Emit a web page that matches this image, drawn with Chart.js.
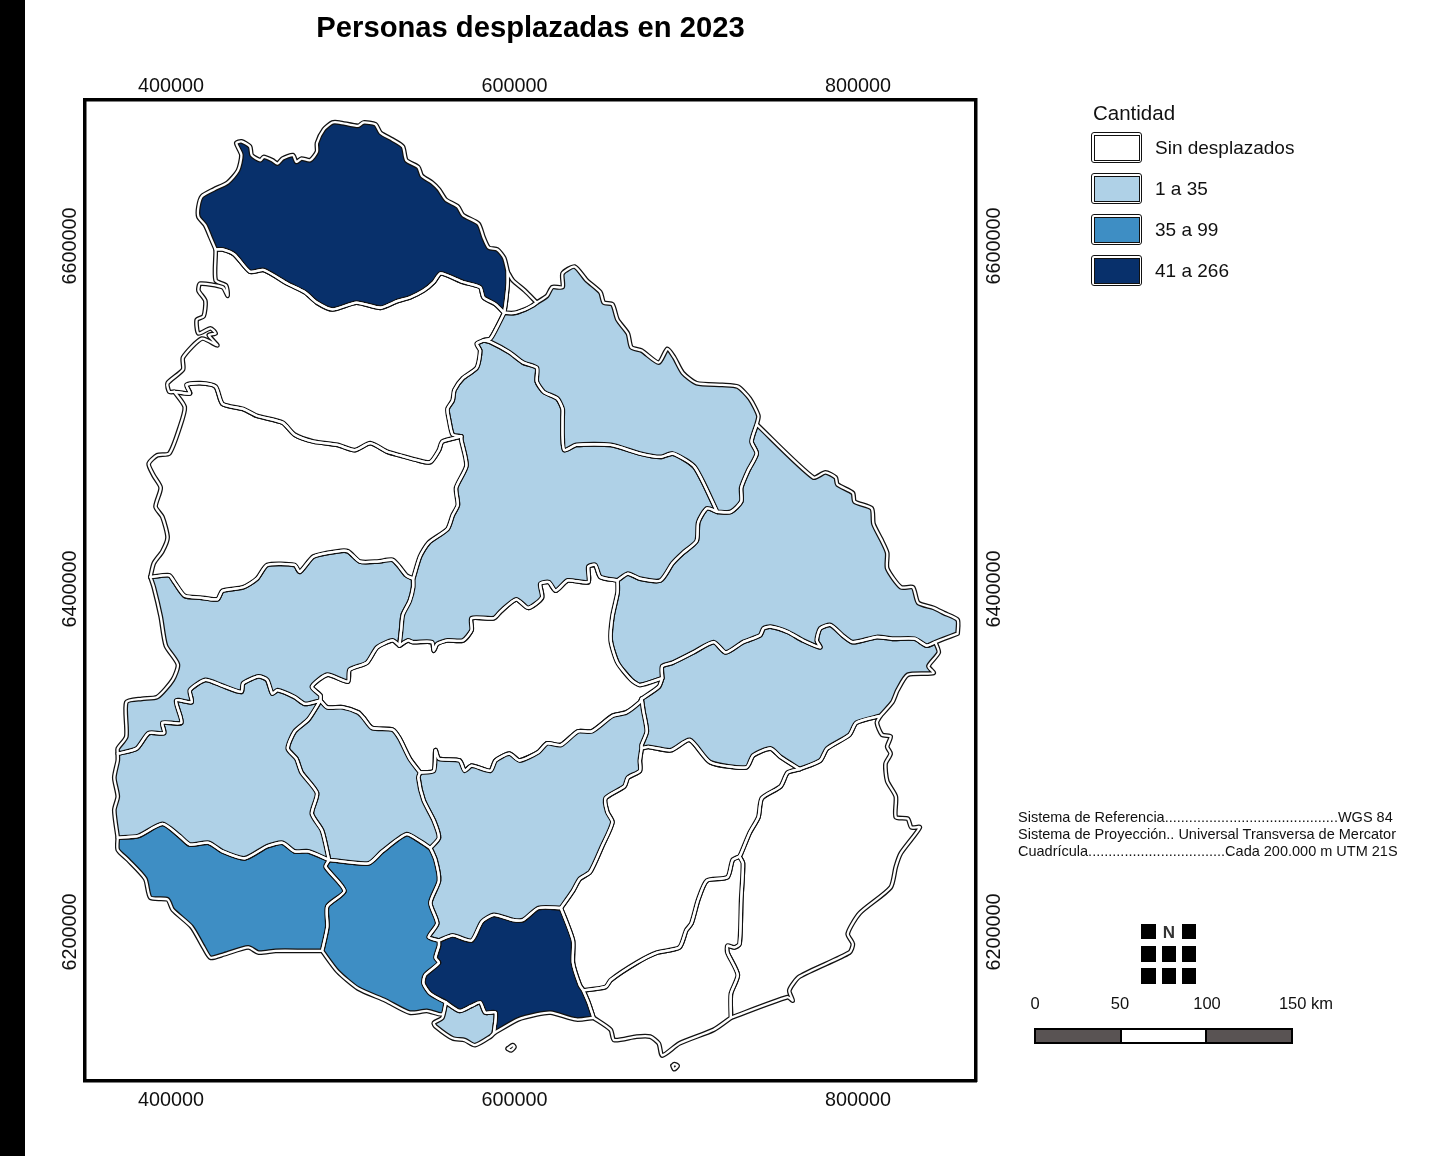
<!DOCTYPE html>
<html lang="es">
<head>
<meta charset="utf-8">
<title>Personas desplazadas en 2023</title>
<script src="https://cdn.jsdelivr.net/npm/chart.js@4"></script>
<style>
html,body{margin:0;padding:0;background:#fff;width:1445px;height:1156px;overflow:hidden}
body{position:relative;font-family:"Liberation Sans",Arial,sans-serif;color:#111}
canvas{position:absolute;left:0;top:0}
.abs{position:absolute;white-space:pre}
.strip{position:absolute;left:0;top:0;width:25px;height:1156px;background:#000}
.sw{position:absolute;left:1091px;width:49px;height:29px;border:1.5px solid #111;border-radius:3px;padding:0;box-sizing:content-box}
.sw i{position:absolute;left:1.5px;top:1.5px;right:1.5px;bottom:1.5px;border:1.5px solid #111;display:block}
.lbl{position:absolute;left:1155px;font-size:19px;line-height:22px;white-space:pre}
.sq{position:absolute;background:#000}
.sc{position:absolute;font-size:16.5px;line-height:20px;top:993px;white-space:pre;transform:translateX(-50%)}
.seg{position:absolute;top:1028px;height:12px;border:2px solid #000}
</style>
</head>
<body>
<canvas id="c" width="1445" height="1156"></canvas>
<div class="strip"></div>

<div class="abs" style="left:1093px;top:101px;font-size:20.5px;line-height:24px">Cantidad</div>
<div id="legend"></div>

<div class="abs" style="left:1018px;top:809px;font-size:14.5px;line-height:17px">Sistema de Referencia...........................................WGS 84
Sistema de Proyección.. Universal Transversa de Mercator
Cuadrícula..................................Cada 200.000 m UTM 21S</div>

<div class="sq" style="left:1141px;top:924px;width:15px;height:15px"></div>
<div class="abs" style="left:1162px;top:923px;width:14px;text-align:center;font-size:17px;line-height:20px;font-weight:bold;color:#333">N</div>
<div class="sq" style="left:1182px;top:924px;width:14px;height:15px"></div>
<div class="sq" style="left:1141px;top:946px;width:15px;height:16px"></div>
<div class="sq" style="left:1162px;top:946px;width:14px;height:16px"></div>
<div class="sq" style="left:1182px;top:946px;width:14px;height:16px"></div>
<div class="sq" style="left:1141px;top:968px;width:15px;height:16px"></div>
<div class="sq" style="left:1162px;top:968px;width:14px;height:16px"></div>
<div class="sq" style="left:1182px;top:968px;width:14px;height:16px"></div>

<div class="sc" style="left:1035px">0</div>
<div class="sc" style="left:1120px">50</div>
<div class="sc" style="left:1207px">100</div>
<div class="sc" style="left:1306px">150 km</div>
<div class="seg" style="left:1034px;width:84px;background:#595353"></div>
<div class="seg" style="left:1120px;width:83px;background:#fff"></div>
<div class="seg" style="left:1205px;width:84px;background:#595353"></div>

<script>
// Category names and legend
const legendTitle = "Cantidad";
const classLabels = ["Sin desplazados", "1 a 35", "35 a 99", "41 a 266"];
const classColors = ["#ffffff", "#afd1e7", "#3e8ec4", "#08306b"];

// Axis ticks (UTM 21S, metres)
const xTicks = [400000, 600000, 800000];
const yTicks = [6200000, 6400000, 6600000];

// Shared boundary arcs: [easting km, northing km]
const artigasNorth = [[426,6598],[423,6605],[420,6612],[416,6617],[416,6623],[418,6629],[425,6633],[433,6637],[439,6644],[441,6653],[438,6660],[441,6661],[446,6658],[447,6653],[452,6650],[454,6652],[459,6650],[462,6648],[465,6651],[471,6653],[473,6649],[476,6651],[481,6650],[485,6655],[485,6660],[489,6668],[494,6672],[498,6672],[509,6670],[512,6672],[519,6671],[522,6666],[529,6662],[535,6658],[537,6650],[544,6646],[546,6641],[552,6637],[556,6633],[560,6627],[567,6623],[570,6618],[579,6613],[582,6605],[585,6599],[590,6598],[594,6593],[596,6585]];
const artigasEast = [[596,6585],[596,6578],[595,6568],[594,6561]];
const artigasSouth = [[594,6561],[589,6566],[582,6570],[580,6576],[570,6579],[557,6584],[553,6579],[547,6574],[539,6570],[532,6568],[522,6564],[508,6567],[494,6563],[485,6567],[478,6573],[468,6578],[454,6586],[446,6585],[437,6595],[430,6598],[426,6598]];
const triangleNorth = [[596,6585],[599,6580],[606,6574],[613,6567]];
const triangleSouth = [[594,6561],[600,6561],[606,6563],[610,6565],[613,6567]];
const riveraNorth = [[613,6567],[619,6571],[622,6576],[628,6576],[628,6584],[635,6588],[642,6580],[650,6573],[652,6567],[657,6566],[660,6557],[666,6549],[668,6541],[674,6539],[684,6532],[689,6540],[693,6535],[698,6526],[706,6520],[721,6519],[730,6518],[737,6511],[742,6501],[741,6496]];
const riveraEast = [[741,6496],[738,6486],[741,6479],[736,6469],[732,6459],[732,6451],[726,6445],[718,6445]];
const riveraSouth = [[582,6545],[586,6544],[597,6538],[605,6532],[613,6529],[613,6521],[617,6515],[625,6511],[628,6505],[628,6500],[628,6489],[629,6481],[636,6484],[656,6484],[673,6479],[685,6477],[692,6479],[700,6475],[705,6471],[710,6462],[718,6445]];
const riveraWest = [[582,6545],[586,6546],[590,6553],[594,6561]];
const saltoRiver = [[426,6598],[426,6596],[426,6580],[432,6577],[433,6571],[430,6576],[417,6578],[416,6574],[420,6568],[419,6559],[415,6557],[416,6549],[423,6552],[426,6549],[422,6548],[427,6542],[418,6546],[407,6535],[407,6528],[398,6520],[399,6515],[402,6515]];
const saltoSouth = [[402,6515],[411,6514],[409,6519],[417,6520],[426,6518],[430,6508],[442,6505],[450,6501],[465,6497],[472,6490],[483,6486],[497,6484],[507,6481],[516,6485],[526,6480],[533,6478],[544,6475],[551,6474],[556,6481],[558,6486],[569,6489]];
const saltoEast = [[569,6489],[564,6490],[562,6498],[561,6505],[564,6510],[565,6516],[570,6523],[578,6529],[580,6539],[578,6543],[582,6545]];
const paysanduRiver = [[402,6515],[408,6506],[405,6494],[399,6479],[392,6478],[387,6473],[390,6466],[394,6459],[391,6448],[395,6442],[398,6430],[395,6422],[390,6415],[388,6407]];
const paysanduSouth = [[388,6407],[399,6408],[402,6404],[408,6396],[417,6395],[427,6394],[430,6399],[442,6401],[450,6406],[456,6414],[472,6414],[475,6410],[483,6419],[497,6422],[503,6422],[510,6416],[520,6416],[529,6417],[533,6413],[537,6408],[541,6406]];
const paysanduEast = [[541,6406],[545,6419],[550,6427],[561,6435],[564,6443],[567,6449],[566,6459],[572,6472],[569,6487],[569,6489]];
const tacuaremboSouthEast = [[718,6445],[712,6447],[707,6439],[706,6428],[698,6421],[692,6415],[685,6405],[673,6406],[666,6409],[660,6405]];
const tacuaremboSouth = [[660,6405],[650,6407],[647,6414],[643,6413],[643,6404],[631,6405],[624,6399],[620,6404],[615,6403],[616,6395],[608,6389],[601,6394],[592,6387],[588,6383],[575,6383],[575,6376],[570,6370],[561,6370],[555,6368],[553,6364],[552,6369],[541,6369],[538,6370],[533,6367]];
const tacuaremboWest = [[533,6367],[534,6376],[535,6385],[539,6393],[541,6401],[541,6406]];
const cerroLargoWest = [[660,6405],[660,6398],[657,6384],[656,6370],[660,6357],[668,6347],[673,6344],[686,6348]];
const cerroLargoNorth = [[741,6496],[774,6465],[781,6468],[787,6465],[788,6461],[797,6456],[798,6451],[808,6447],[809,6438],[814,6428],[817,6421],[817,6412],[825,6401],[832,6401],[835,6392],[844,6389],[850,6386],[858,6382],[858,6374]];
const cerroLargoTip = [[858,6374],[850,6371],[845,6369]];
const cerroLargoSouth = [[845,6369],[840,6367],[833,6371],[820,6371],[811,6372],[797,6369],[791,6373],[784,6379],[778,6377],[776,6370],[778,6366],[768,6370],[759,6375],[749,6378],[745,6377],[743,6373],[733,6369],[723,6363],[716,6369],[704,6363],[692,6357],[686,6355],[686,6348]];
const treintaEast = [[845,6369],[847,6363],[841,6355],[844,6351],[829,6350],[823,6341],[820,6334],[813,6326]];
const treintaSouthEast = [[813,6326],[799,6322],[795,6315],[782,6307],[778,6300],[766,6295]];
const treintaSouth = [[766,6295],[755,6302],[749,6307],[739,6303],[735,6296],[714,6299],[702,6312],[691,6306],[678,6308],[674,6307]];
const treintaWest = [[674,6307],[674,6309],[677,6317],[675,6329],[674,6336]];
const duraznoSouthEast = [[686,6348],[684,6343],[674,6336]];
const floridaNorth = [[674,6336],[673,6334],[665,6328],[657,6326],[645,6317],[637,6317],[627,6309],[619,6310],[614,6305],[603,6300],[597,6304],[589,6300],[586,6294],[575,6297],[571,6294],[568,6300],[556,6301],[554,6306],[553,6294],[545,6293]];
const floridaWest = [[545,6293],[544,6290],[547,6277],[553,6265],[556,6255],[551,6249]];
const sanJoseEast = [[551,6249],[554,6242],[556,6230],[551,6217],[555,6205],[550,6197],[556,6195]];
const floridaSouth = [[556,6195],[564,6198],[575,6195],[581,6206],[588,6210],[599,6207],[605,6207],[614,6214],[627,6214]];
const floridaEast = [[627,6214],[634,6224],[638,6231],[644,6235],[651,6250],[657,6264],[654,6270],[653,6278],[664,6285],[666,6290],[673,6294],[673,6300],[674,6307]];
const canelonesEast = [[627,6214],[634,6195],[634,6182],[638,6169],[640,6166]];
const canelonesSouthEast = [[640,6166],[643,6159],[646,6150]];
const canelonesCoast = [[646,6150],[636,6149],[621,6153],[613,6152],[602,6149],[588,6141]];
const montevideoNorth = [[560,6159],[568,6154],[575,6157],[580,6159],[583,6153],[589,6153],[588,6141]];
const montevideoCoast = [[588,6141],[586,6139],[577,6134],[571,6137],[564,6138],[554,6145],[553,6147],[558,6150],[560,6159]];
const canelonesWest = [[556,6195],[556,6192],[554,6185],[556,6182],[548,6175],[547,6170],[551,6164],[560,6159]];
const sanJoseCoast = [[560,6159],[558,6152],[549,6154],[539,6153],[525,6160],[509,6167],[497,6177],[488,6189]];
const coloniaEast = [[488,6189],[491,6203],[491,6215],[501,6224],[490,6238],[492,6242]];
const floresSouth = [[492,6242],[515,6240],[523,6247],[537,6257],[545,6253],[551,6249]];
const sorianoSouth = [[369,6255],[381,6256],[395,6263],[405,6256],[411,6251],[422,6252],[430,6247],[443,6243],[456,6250],[465,6252],[472,6247],[480,6247],[492,6242]];
const coloniaCoast = [[488,6189],[478,6189],[461,6189],[451,6188],[445,6191],[431,6187],[423,6185],[419,6191],[412,6203],[401,6213],[398,6219],[388,6220],[385,6231],[375,6242],[369,6248],[369,6255]];
const sorianoEast = [[487,6335],[480,6324],[472,6317],[468,6307],[473,6301],[476,6293],[485,6281],[482,6269],[488,6259],[492,6242]];
const floresNorth = [[545,6293],[539,6301],[533,6313],[529,6318],[517,6319],[512,6325],[509,6328],[500,6331],[491,6331],[487,6335]];
const rioNegroSouthEast = [[533,6367],[529,6370],[520,6366],[514,6357],[504,6353],[503,6346],[491,6350],[482,6343],[487,6338],[487,6335]];
const sorianoNorth = [[487,6335],[478,6333],[472,6337],[462,6341],[459,6339],[456,6347],[451,6349],[442,6345],[441,6340],[429,6344],[420,6347],[411,6341],[412,6334],[403,6335],[406,6322],[395,6322],[396,6316],[387,6316],[380,6307],[369,6304]];
const rioNegroRiver = [[369,6304],[369,6307],[374,6314],[374,6334],[383,6336],[392,6337],[401,6347],[404,6356],[397,6367],[394,6384],[390,6401],[388,6407]];
const sorianoRiver = [[369,6304],[369,6300],[367,6290],[369,6279],[367,6271],[369,6255]];
const maldonadoNorth = [[640,6166],[653,6168],[656,6172],[671,6182],[683,6188],[696,6191],[700,6201],[703,6205],[707,6219],[712,6230],[724,6232],[727,6242],[731,6244]];
const lavallejaEast = [[731,6244],[732,6246],[737,6258],[742,6267],[744,6278],[755,6285],[759,6293],[766,6295]];
const maldonadoEast = [[731,6244],[733,6240],[732,6219],[731,6193],[728,6191],[724,6192],[724,6188],[730,6175],[726,6164],[726,6150]];
const maldonadoCoast = [[646,6150],[656,6143],[658,6137],[671,6139],[679,6139],[684,6135],[686,6128],[696,6135],[716,6143],[726,6150]];
const rochaCoast = [[726,6150],[759,6162],[762,6160],[760,6166],[766,6174],[795,6188],[797,6193],[794,6199],[801,6211],[819,6226],[822,6238],[825,6246],[836,6261],[831,6261],[829,6266],[822,6267],[822,6279],[817,6288],[816,6298],[819,6304],[817,6308],[819,6314],[814,6315],[811,6322],[813,6326]];
const islandWest = [[596,6132],[599,6134],[600,6133],[598,6131]];
const islandEast = [[692,6122],[693,6123],[695,6122],[693,6120]];

const rev = a => a.slice().reverse();
const ring = (...parts) => { const r = [].concat(...parts); r.push(r[0]); return r; };

// Departments: class index, then the closed boundary
const departments = [
  [3, ring(artigasNorth, artigasEast, artigasSouth)],
  [0, ring(triangleNorth, rev(triangleSouth), rev(artigasEast))],
  [1, ring(riveraNorth, riveraEast, rev(riveraSouth), riveraWest, triangleSouth)],
  [0, ring(saltoRiver, saltoSouth, saltoEast, riveraWest, artigasSouth)],
  [0, ring(paysanduRiver, paysanduSouth, paysanduEast, rev(saltoSouth))],
  [1, ring(riveraSouth, tacuaremboSouthEast, tacuaremboSouth, tacuaremboWest, paysanduEast, saltoEast)],
  [1, ring(paysanduSouth, rev(tacuaremboWest), rioNegroSouthEast, sorianoNorth, rioNegroRiver)],
  [1, ring(sorianoNorth, sorianoRiver, sorianoSouth, rev(sorianoEast))],
  [1, ring(sorianoEast, floresSouth, rev(floridaWest), floresNorth)],
  [2, ring(sorianoSouth, rev(coloniaEast), coloniaCoast)],
  [2, ring(coloniaEast, floresSouth, sanJoseEast, canelonesWest, sanJoseCoast)],
  [1, ring(floridaNorth, floridaWest, sanJoseEast, floridaSouth, floridaEast, treintaWest)],
  [3, ring(canelonesEast, canelonesSouthEast, canelonesCoast, rev(montevideoNorth), rev(canelonesWest), floridaSouth)],
  [1, ring(montevideoNorth, montevideoCoast)],
  [0, ring(tacuaremboSouth, rioNegroSouthEast, rev(floresNorth), rev(floridaNorth), rev(duraznoSouthEast), rev(cerroLargoWest))],
  [1, ring(cerroLargoNorth, cerroLargoTip, cerroLargoSouth, rev(cerroLargoWest), rev(tacuaremboSouthEast), rev(riveraEast))],
  [1, ring(treintaEast, treintaSouthEast, treintaSouth, treintaWest, rev(duraznoSouthEast), rev(cerroLargoSouth))],
  [0, ring(floridaEast, rev(treintaSouth), rev(lavallejaEast), rev(maldonadoNorth), rev(canelonesEast))],
  [0, ring(canelonesSouthEast, maldonadoCoast, rev(maldonadoEast), rev(maldonadoNorth))],
  [0, ring(rochaCoast, treintaSouthEast, rev(lavallejaEast), maldonadoEast)],
  [0, ring(islandWest)],
  [0, ring(islandEast)]
];

// Legend (real text, from the arrays above)
const legendTops = [132, 173, 214, 255];
document.getElementById("legend").innerHTML = classLabels.map((t, i) =>
  `<div class="sw" style="top:${legendTops[i]}px;background:#fff"><i style="background:${classColors[i]}"></i></div>` +
  `<div class="lbl" style="top:${legendTops[i] + 5}px">${t}</div>`).join("");

const toPoint = p => ({ x: p[0] * 1000, y: p[1] * 1000 });
const lineBase = { showLine: true, pointRadius: 0, pointHoverRadius: 0, tension: 0.22,
  borderJoinStyle: "round", borderCapStyle: "round" };

const datasets = [];
departments.forEach(([cls, shape], i) => {
  datasets.push({ ...lineBase, label: "d" + i, order: 2, data: shape.map(toPoint),
    fill: "shape", backgroundColor: classColors[cls], borderColor: "#111111", borderWidth: 4.8 });
});
departments.forEach(([cls, shape], i) => {
  datasets.push({ ...lineBase, label: "e" + i, order: 1, data: shape.map(toPoint),
    fill: false, borderColor: "#ffffff", borderWidth: 2.3 });
});

const xLimits = { min: 349930, max: 868700 };
const yLimits = { min: 6113120, max: 6685130 };
const tickFont = { family: "'Liberation Sans', Arial, sans-serif", size: 19.8 };

const horizontalAxis = (position, pad) => ({
  type: "linear", position, ...xLimits, offset: false,
  grid: { display: false, drawTicks: false },
  border: { display: true, color: "#000", width: 3.5 },
  afterBuildTicks: s => { s.ticks = xTicks.map(value => ({ value })); },
  ticks: { color: "#111", font: tickFont, padding: pad, maxRotation: 0, minRotation: 0,
    callback: v => String(v) },
  afterFit: s => { s.height = 40; }
});
const verticalAxis = (position, pad) => ({
  type: "linear", position, ...yLimits, offset: false,
  grid: { display: false, drawTicks: false },
  border: { display: true, color: "#000", width: 3.5 },
  afterBuildTicks: s => { s.ticks = yTicks.map(value => ({ value })); },
  ticks: { color: "#111", font: tickFont, padding: pad, minRotation: 90, maxRotation: 90,
    crossAlign: "center", callback: v => String(v) },
  afterFit: s => { s.width = 40; }
});

new Chart(document.getElementById("c"), {
  type: "scatter",
  data: { datasets },
  options: {
    responsive: false, animation: false, devicePixelRatio: 1,
    layout: { padding: { left: 45, right: 429, top: 0, bottom: 35 } },
    events: [],
    scales: {
      x: horizontalAxis("bottom", 8),
      x2: horizontalAxis("top", 2),
      y: verticalAxis("left", -24),
      y2: verticalAxis("right", -20)
    },
    plugins: {
      legend: { display: false },
      tooltip: { enabled: false },
      title: { display: true, fullSize: false, text: "Personas desplazadas en 2023", align: "center",
        color: "#000", font: { family: "'Liberation Sans', Arial, sans-serif", size: 29.2, weight: "bold", lineHeight: 1.2 },
        padding: { top: 11, bottom: 13.96 } }
    }
  }
});
</script>
</body>
</html>
